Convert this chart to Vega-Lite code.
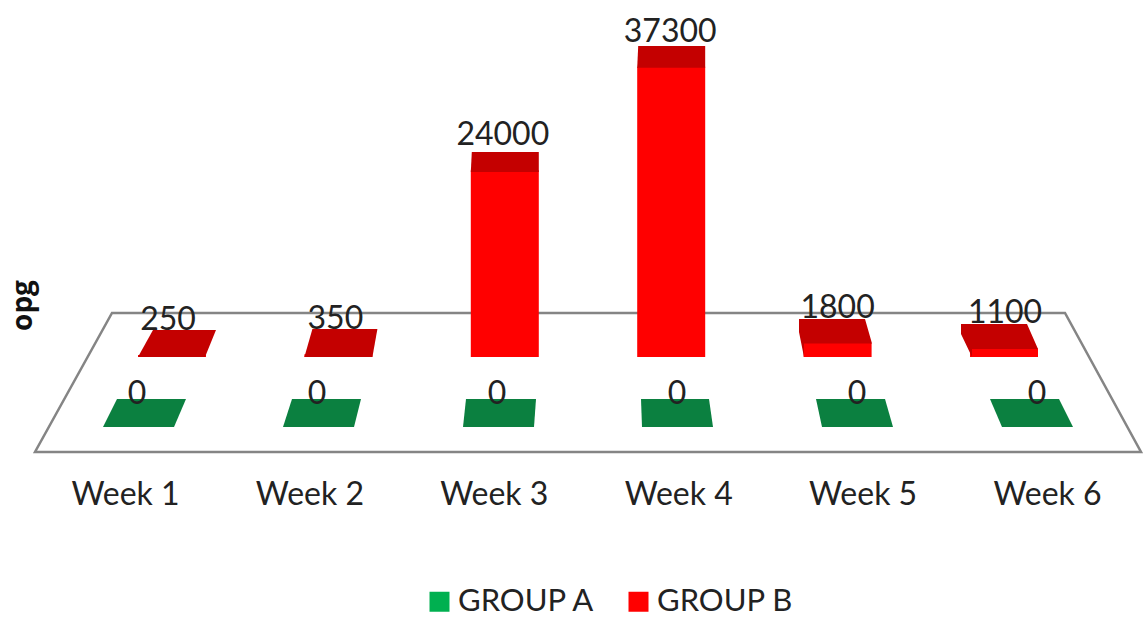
{
"$schema":"https://vega.github.io/schema/vega-lite/v6.json",
"width":1143,"height":621,"padding":0,"autosize":"none","background":"white",
"config":{"view":{"stroke":null},"font":"Lato"},
"datasets":{"rows":[
{"week":"Week 1","group":"GROUP A","value":0},{"week":"Week 2","group":"GROUP A","value":0},{"week":"Week 3","group":"GROUP A","value":0},{"week":"Week 4","group":"GROUP A","value":0},{"week":"Week 5","group":"GROUP A","value":0},{"week":"Week 6","group":"GROUP A","value":0},
{"week":"Week 1","group":"GROUP B","value":250},{"week":"Week 2","group":"GROUP B","value":350},{"week":"Week 3","group":"GROUP B","value":24000},{"week":"Week 4","group":"GROUP B","value":37300},{"week":"Week 5","group":"GROUP B","value":1800},{"week":"Week 6","group":"GROUP B","value":1100}
],"floor":[{"week":"Week 3","value":0}]},
"layer":[
{"data":{"name":"floor"},
 "mark":{"type":"point","filled":false,"opacity":1,"size":4,"stroke":"#858585","strokeWidth":2.5},
 "encoding":{
  "x":{"field":"week","type":"nominal","scale":{"type":"point","padding":0,"domain":["Week 1","Week 2","Week 3","Week 4","Week 5","Week 6"],"range":[125,1047]},
   "axis":{"title":null,"orient":"bottom","offset":-142,"domain":false,"ticks":false,"labelAngle":0,"labelFontSize":32,"labelColor":"#222222","labelPadding":0,"labelFont":"Lato"}},
  "y":{"field":"value","type":"quantitative","scale":{"domain":[-33933,45887],"nice":false,"zero":false},
   "axis":{"title":"opg","domain":false,"ticks":false,"labels":false,"grid":false,"titleFontSize":28,"titleFontWeight":"bold","titleColor":"#111111","titleX":23,"titleY":305,"titleFont":"Open Sans","titleBaseline":"middle","titlePadding":0}},
  "shape":{"field":"week","type":"nominal","scale":{"domain":["Week 3"],"range":["M-458.8,95L647.2,95L571.2,-44L-381.8,-44Z"]},"legend":null}
 }},
{"data":{"name":"rows"},"transform":[{"filter":"datum.group==='GROUP B'"}],
 "mark":{"type":"bar","size":68},
 "encoding":{
  "x":{"field":"week","type":"nominal","scale":{"type":"point","padding":0,"domain":["Week 1","Week 2","Week 3","Week 4","Week 5","Week 6"],"range":[172,1004]},"axis":null},
  "y":{"field":"value","type":"quantitative"},
  "y2":{"datum":0},
  "color":{"field":"group","type":"nominal","scale":{"domain":["GROUP A","GROUP B"],"range":["#00B050","#FF0000"]},
   "legend":{"title":null,"orient":"none","legendX":424,"legendY":586,"direction":"horizontal","symbolType":"square","symbolSize":400,"symbolStrokeWidth":0,"labelFontSize":31,"labelColor":"#222222","labelFont":"Lato","labelOffset":3,"columnPadding":27,"symbolOpacity":1}}
 }},
{"data":{"name":"rows"},"transform":[{"filter":"datum.group==='GROUP B'"}],
 "mark":{"type":"point","filled":true,"opacity":1,"size":4,"fill":"#C40000","strokeWidth":0},
 "encoding":{
  "x":{"field":"week","type":"nominal","scale":{"type":"point","padding":0,"domain":["Week 1","Week 2","Week 3","Week 4","Week 5","Week 6"],"range":[172,1004]},"axis":null},
  "y":{"field":"value","type":"quantitative"},
  "shape":{"field":"week","type":"nominal","scale":{"domain":["Week 1","Week 2","Week 3","Week 4","Week 5","Week 6"],"range":[
   "M-34,2L33,2L44,-25L-19,-25Z",
   "M-34,2.7L34,2.7L39,-25.3L-26,-25.3Z",
   "M-34,1.7L34,1.7L34,-18.3L-33,-18.3Z",
   "M-34,1L34,1L34,-20.8L-33,-20.8Z",
   "M-38.6,-24L27.4,-24L34.4,0.5L-33.6,0.5L-33.6,14L-38.6,-11Z",
   "M-43,-24.4L23,-24.4L34,0.5L-32,0.5L-32,8.6L-43,-14.4Z"
  ]},"legend":null}
 }},
{"data":{"name":"rows"},"transform":[{"filter":"datum.group==='GROUP A'"}],
 "mark":{"type":"point","filled":true,"opacity":1,"size":4,"fill":"#0B8040","strokeWidth":0,"yOffset":70},
 "encoding":{
  "x":{"field":"week","type":"nominal","scale":{"type":"point","padding":0,"domain":["Week 1","Week 2","Week 3","Week 4","Week 5","Week 6"],"range":[138.5,1037.5]},"axis":null},
  "y":{"field":"value","type":"quantitative"},
  "shape":{"field":"week","type":"nominal","scale":{"domain":["Week 1","Week 2","Week 3","Week 4","Week 5","Week 6"],"range":[
   "M-35.5,0L35.5,0L47.5,-28L-21.5,-28Z",
   "M-35.3,0L35.7,0L42.7,-28L-26.3,-28Z",
   "M-35.1,0L35.9,0L37.9,-28L-32.1,-28Z",
   "M-35.9,0L35.1,0L31.1,-28L-36.9,-28Z",
   "M-35.7,0L35.3,0L27.3,-28L-41.7,-28Z",
   "M-35.5,0L35.5,0L21.5,-28L-47.5,-28Z"
  ]},"legend":null}
 }},
{"data":{"name":"rows"},"transform":[{"filter":"datum.group==='GROUP B'"}],
 "mark":{"type":"text","fontSize":32,"dy":-35,"baseline":"middle","color":"#222222"},
 "encoding":{
  "x":{"field":"week","type":"nominal","scale":{"type":"point","padding":0,"domain":["Week 1","Week 2","Week 3","Week 4","Week 5","Week 6"],"range":[168,1005]},"axis":null},
  "y":{"field":"value","type":"quantitative"},
  "text":{"field":"value","type":"quantitative","format":"d"}
 }},
{"data":{"name":"rows"},"transform":[{"filter":"datum.group==='GROUP A'"}],
 "mark":{"type":"text","fontSize":32,"dy":37,"baseline":"middle","color":"#222222"},
 "encoding":{
  "x":{"field":"week","type":"nominal","scale":{"type":"point","padding":0,"domain":["Week 1","Week 2","Week 3","Week 4","Week 5","Week 6"],"range":[137,1037]},"axis":null},
  "y":{"field":"value","type":"quantitative"},
  "text":{"field":"value","type":"quantitative","format":"d"}
 }}
],
"resolve":{"scale":{"x":"independent","shape":"independent"},"axis":{"x":"independent"}}
}
